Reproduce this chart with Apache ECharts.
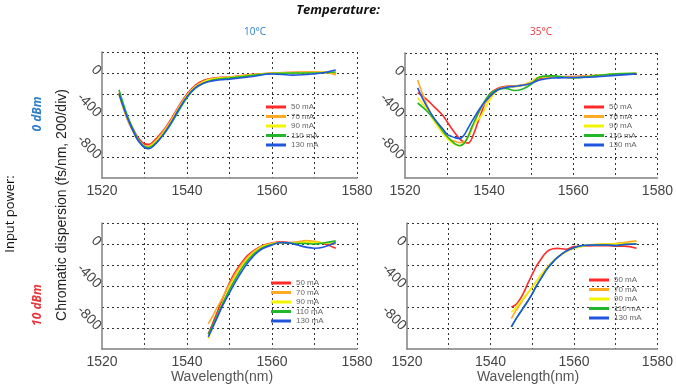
<!DOCTYPE html>
<html>
<head>
<meta charset="utf-8">
<script src="https://cdn.jsdelivr.net/npm/echarts@6/dist/echarts.min.js"></script>
<style>html,body{margin:0;padding:0;background:#fff}#c{width:676px;height:385px}</style>
</head>
<body>
<div id="c"></div>
<script>
// ---------- data ----------
const seriesNames = ['50 mA', '70 mA', '90 mA', '110 mA', '130 mA'];
const seriesColors = ['#ff2a2a', '#ffaa22', '#f4f400', '#22b62a', '#2255dd'];
const xTicks = [1520, 1540, 1560, 1580];
const yTicks = [0, -400, -800];

// Top-left: 10°C, 0 dBm
const wlTL = [1524,1526,1528,1529,1530,1531,1532,1534,1536,1538,1540,1542,1544,1546,1548,1550,1555,1560,1565,1570,1573,1575];
const tl50  = [-190,-420,-585,-640,-675,-680,-655,-570,-455,-320,-200,-115,-70,-50,-42,-38,-15,0,5,8,5,-5];
const tl70  = [-200,-450,-610,-665,-695,-695,-670,-580,-465,-330,-210,-125,-78,-55,-45,-40,-18,-2,6,10,2,-20];
const tl90  = [-210,-430,-600,-660,-700,-705,-680,-595,-480,-345,-220,-130,-82,-60,-48,-42,-20,-3,2,5,8,0];
const tl110 = [-160,-410,-595,-660,-700,-710,-690,-610,-500,-365,-235,-145,-95,-68,-55,-48,-25,-5,0,0,5,10];
const tl130 = [-200,-430,-610,-670,-710,-720,-700,-610,-490,-350,-225,-140,-95,-75,-65,-58,-35,-10,-20,-8,10,28];

// Top-right: 35°C, 0 dBm
const wlTR = [1523,1525,1527,1529,1530,1531,1532,1533,1534,1535,1536,1538,1540,1542,1544,1546,1548,1550,1552,1555,1560,1565,1570,1575];
const tr50  = [-180,-240,-320,-400,-460,-520,-575,-625,-655,-665,-610,-390,-200,-140,-120,-115,-110,-85,-45,-30,-25,-20,-10,0];
const tr70  = [-60,-280,-450,-570,-610,-635,-650,-660,-655,-610,-520,-340,-240,-150,-125,-115,-105,-75,-35,-25,-30,-15,-5,5];
const tr90  = [-230,-330,-460,-570,-620,-655,-680,-690,-670,-600,-500,-410,-260,-160,-130,-125,-110,-80,-30,-25,-35,-20,0,5];
const tr110 = [-280,-350,-440,-550,-600,-640,-675,-690,-670,-600,-500,-330,-200,-150,-140,-160,-145,-100,-30,-20,-40,-20,0,5];
const tr130 = [-135,-300,-430,-530,-580,-600,-615,-620,-590,-520,-450,-320,-225,-155,-130,-120,-110,-90,-60,-40,-35,-30,-15,0];

// Bottom-left: 10°C, 10 dBm
const wlBL = [1545,1546,1547,1548,1549,1550,1551,1552,1553,1554,1555,1556,1557,1558,1560,1562,1564,1566,1568,1570,1572,1575];
const bl50  = [-855,-760,-660,-560,-460,-370,-290,-225,-170,-120,-85,-55,-30,-10,10,20,15,15,25,15,5,-40];
const bl70  = [-760,-690,-610,-540,-460,-385,-310,-245,-185,-135,-95,-62,-35,-15,5,15,10,20,32,25,10,0];
const bl90  = [-900,-800,-700,-600,-505,-420,-340,-270,-210,-155,-110,-75,-45,-22,0,15,10,10,20,15,10,10];
const bl110 = [-860,-780,-690,-600,-515,-435,-360,-290,-225,-170,-125,-85,-55,-30,-5,12,10,5,5,0,10,30];
const bl130 = [-885,-800,-710,-620,-540,-465,-390,-320,-255,-195,-145,-100,-65,-40,-10,15,10,-10,-30,-40,-30,15];

// Bottom-right: 35°C, 10 dBm
const wlBR = [1545,1546,1547,1548,1549,1550,1551,1552,1553,1554,1555,1556,1558,1560,1562,1565,1568,1570,1572,1575];
const br50  = [-600,-580,-530,-460,-370,-290,-210,-150,-95,-60,-45,-42,-50,-25,-20,-15,-15,-20,-20,-40];
const br70  = [-710,-640,-580,-520,-465,-410,-355,-300,-250,-205,-165,-130,-75,-40,-20,-5,0,5,15,30];
const br90  = [-650,-610,-560,-510,-460,-410,-355,-300,-250,-205,-165,-130,-75,-40,-20,-5,0,0,5,5];
const br110 = [-790,-720,-660,-600,-540,-475,-400,-335,-270,-215,-170,-130,-70,-35,-15,-10,-10,-15,-5,0];
const br130 = [-790,-720,-660,-600,-540,-475,-400,-335,-270,-215,-170,-130,-70,-35,-15,-10,-10,-15,-5,0];

// ---------- chart ----------
const panels = [
  {wl: wlTL, vals: [tl50, tl70, tl90, tl110, tl130], grid: {left: 102, top: 52, width: 255, height: 126}, legend: {left: 261, top: 98}},
  {wl: wlTR, vals: [tr50, tr70, tr90, tr110, tr130], grid: {left: 405, top: 53, width: 255, height: 125}, legend: {left: 579, top: 98}},
  {wl: wlBL, vals: [bl50, bl70, bl90, bl110, bl130], grid: {left: 102, top: 223, width: 255, height: 126}, legend: {left: 266, top: 274}},
  {wl: wlBR, vals: [br50, br70, br90, br110, br130], grid: {left: 407, top: 223, width: 256, height: 126}, legend: {left: 584, top: 271}}
];

const grids = [], xAxes = [], yAxes = [], series = [], legends = [];
panels.forEach((p, i) => {
  grids.push(Object.assign({containLabel: false}, p.grid));
  xAxes.push({
    type: 'value', gridIndex: i, min: 1520, max: 1580, interval: 10,
    axisLine: {show: true, onZero: false, lineStyle: {color: '#808080', width: 1.5}},
    axisTick: {show: false},
    axisLabel: {color: '#444', fontSize: 14, fontFamily: 'Liberation Sans, Arial', margin: 6,
      formatter: v => xTicks.includes(v) ? String(v) : ''},
    splitLine: {show: true, showMinLine: false, lineStyle: {color: '#333', type: [2, 3], width: 1}}
  });
  yAxes.push({
    type: 'value', gridIndex: i, min: -1000, max: 200, interval: 200,
    axisLine: {show: true, onZero: false, lineStyle: {color: '#808080', width: 1.5}},
    axisTick: {show: false},
    axisLabel: {color: '#444', fontSize: 14, fontFamily: 'Liberation Sans, Arial', rotate: -45, margin: 3,
      formatter: v => yTicks.includes(v) ? String(v) : ''},
    splitLine: {show: true, showMinLine: false, lineStyle: {color: '#333', type: [2, 3], width: 1}}
  });
  p.vals.forEach((vals, k) => {
    series.push({
      name: seriesNames[k], type: 'line', xAxisIndex: i, yAxisIndex: i,
      data: p.wl.map((w, j) => [w, vals[j]]),
      smooth: 0.4, showSymbol: false, symbol: 'none',
      lineStyle: {color: seriesColors[k], width: 1.6},
      itemStyle: {color: seriesColors[k]},
      z: 2 + k
    });
  });
  legends.push({
    data: seriesNames, left: p.legend.left, top: p.legend.top, orient: 'vertical',
    icon: 'rect', itemWidth: 20, itemHeight: 3, itemGap: 1.5,
    textStyle: {fontSize: 8, color: '#666', fontFamily: 'Liberation Sans, Arial', width: 30, align: 'right', padding: [0,0,0,0]},
    selectedMode: false
  });
});

const chart = echarts.init(document.getElementById('c'), null, {renderer: 'canvas'});
chart.setOption({
  animation: false,
  backgroundColor: '#fff',
  grid: grids, xAxis: xAxes, yAxis: yAxes, series: series, legend: legends,
  graphic: [
    {type: 'text', left: 'center', top: 4, style: {text: 'Temperature:', font: 'italic bold 13px "Open Sans", Arial', fill: '#111'}},
    {type: 'text', x: 255, y: 32, style: {text: '10°C', font: '10px "Open Sans", Arial', fill: '#2f7fc8', align: 'center', verticalAlign: 'middle'}},
    {type: 'text', x: 541, y: 32, style: {text: '35°C', font: '10px "Open Sans", Arial', fill: '#e8363a', align: 'center', verticalAlign: 'middle'}},
    {type: 'text', x: 38, y: 114, rotation: Math.PI / 2, style: {text: '0 dBm', font: 'italic bold 12px "Open Sans", Arial', fill: '#2f7fc8', align: 'center', verticalAlign: 'middle'}},
    {type: 'text', x: 38, y: 305, rotation: Math.PI / 2, style: {text: '10 dBm', font: 'italic bold 12px "Open Sans", Arial', fill: '#e8363a', align: 'center', verticalAlign: 'middle'}},
    {type: 'text', x: 10, y: 214, rotation: Math.PI / 2, style: {text: 'Input power:', font: '13px "Open Sans", Arial', fill: '#111', align: 'center', verticalAlign: 'middle'}},
    {type: 'text', x: 62, y: 205, rotation: Math.PI / 2, style: {text: 'Chromatic dispersion (fs/nm, 200/div)', font: '14px "Liberation Sans", Arial', fill: '#222', align: 'center', verticalAlign: 'middle'}},
    {type: 'text', x: 222, y: 377, style: {text: 'Wavelength(nm)', font: '14px "Liberation Sans", Arial', fill: '#555', align: 'center', verticalAlign: 'middle'}},
    {type: 'text', x: 528, y: 377, style: {text: 'Wavelength(nm)', font: '14px "Liberation Sans", Arial', fill: '#555', align: 'center', verticalAlign: 'middle'}}
  ]
});
</script>
</body>
</html>
